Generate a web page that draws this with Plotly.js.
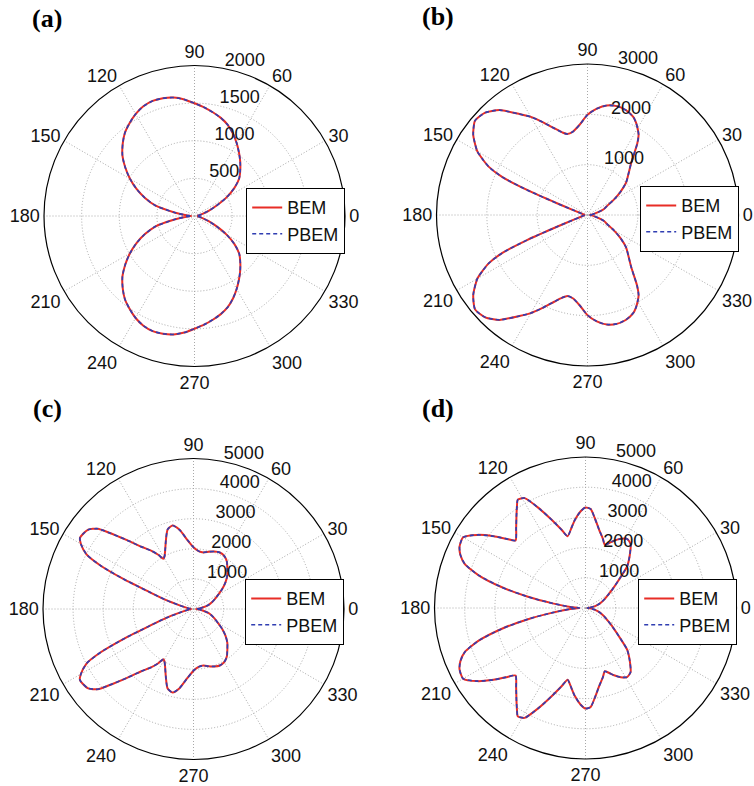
<!DOCTYPE html>
<html>
<head>
<meta charset="utf-8">
<script src="https://cdn.plot.ly/plotly-3.0.1.min.js"></script>
<style>html,body{margin:0;padding:0;background:#fff;}#chart{width:754px;height:786px;}</style>
</head>
<body>
<div id="chart"></div>
<script>
// ---------- data ----------
const seriesNames = ['BEM', 'PBEM'];
const panelLabels = ['(a)', '(b)', '(c)', '(d)'];
const angleTicks = [0, 30, 60, 90, 120, 150, 180, 210, 240, 270, 300, 330];
const angleTickText = ['0', '30', '60', '90', '120', '150', '180', '210', '240', '270', '300', '330'];
const radialTicksA = [500, 1000, 1500, 2000];
const radialTicksB = [1000, 2000, 3000];
const radialTicksC = [1000, 2000, 3000, 4000, 5000];
const radialTicksD = [1000, 2000, 3000, 4000, 5000];

// (a)
const thetaA = [0,5,10,15,20,25,30,35,40,45,50,55,60,65,70,75,80,85,90,95,100,105,110,115,120,125,130,135,140,145,150,155,160,165,170,175,180,
  185,190,195,200,205,210,215,220,225,230,235,240,245,250,255,260,265,270,275,280,285,290,295,300,305,310,315,320,325,330,335,340,345,350,355,360];
const bemA = [40,45,65,110,200,320,488,645,775,860,945,1030,1120,1210,1290,1350,1400,1450,1498,1555,1598,1620,1627,1608,1565,1505,1440,1350,1250,1123,990,850,700,540,270,110,40,
  110,270,540,700,850,990,1123,1250,1350,1440,1505,1565,1608,1627,1620,1598,1555,1498,1450,1400,1350,1290,1210,1120,1030,945,860,775,645,488,320,200,110,65,45,40];
const pbemA = bemA;

// (b)
const thetaB = [0,5,10,15,20,25,30,35,40,45,50,55,57.5,60,62.5,65,70,75,80,85,90,95,100,104,107,111,116,120,124,130,135,140,145,150,152,154,156,157.5,159,161,164,170,175,180,
  185,190,196,199,201,202.5,204,206,208,210,215,220,225,230,236,240,244,249,253,256,260,265,270,275,280,285,290,295,297.5,300,302.5,305,310,315,320,325,330,335,340,345,350,355,360];
const bemB = [50,80,130,220,350,430,600,800,1000,1150,1350,1720,1890,1990,2080,2150,2220,2240,2210,2120,1990,1800,1680,1658,1717,1846,2060,2250,2420,2720,2875,2917,2771,2527,2360,2180,1850,1300,650,300,160,90,70,60,
  70,90,160,300,650,1300,1850,2180,2360,2527,2771,2917,2875,2720,2420,2250,2060,1846,1717,1658,1680,1800,1990,2120,2210,2240,2220,2150,2080,1990,1890,1720,1350,1150,1000,800,600,430,350,220,130,80,50];
const pbemB = bemB;

// (c)
const thetaC = [0,5,10,15,20,25,30,35,40,45,50,55,60,65,70,75,80,85,90,95,100,104,108,112,116,119,121,123,126,130,134,138,140,143,146,148,150,153,155,157,159,162,165,170,175,180,
  185,190,195,198,201,203,205,207,210,212,214,217,220,222,226,230,234,237,239,241,244,248,252,256,260,265,270,275,280,285,290,295,300,305,310,315,320,325,330,335,340,345,350,355,360];
const bemC = [80,200,330,510,650,790,950,1170,1390,1590,1750,1930,2040,2070,2030,1970,1910,1930,2050,2300,2670,2860,2780,2450,2150,1990,1945,2150,2400,2700,3180,3800,4150,4380,4440,4450,4320,3990,3400,2450,1550,950,500,220,120,80,
  120,220,500,950,1550,2450,3400,3990,4320,4450,4440,4380,4150,3800,3180,2700,2400,2150,1945,1990,2150,2450,2780,2860,2670,2300,2050,1930,1910,1970,2030,2070,2040,1930,1750,1590,1390,1170,950,790,650,510,330,200,80];
const pbemC = bemC;

// (d)
const thetaD = [0,5,10,15,20,25,30,35,40,45,50,55,59,63,67,70,73,76,80,84,87,90,93,97,100,104,107,111,115,119,122,124,127,131,136,139,142,146,150,154,157,160,163,166,169,172,176,180,
  184,188,191,194,197,200,203,206,210,214,218,221,224,229,233,236,238,241,245,249,253,256,260,263,267,270,273,276,280,284,287,290,293,297,301,305,310,315,320,325,330,335,340,345,350,355,360];
const bemD = [60,150,300,430,560,700,860,1100,1430,1950,2280,2600,2670,2570,2420,2290,2190,2370,2620,2980,3280,3330,3200,2930,2690,2450,2710,3130,3640,4160,4230,4060,3800,3500,3220,3500,3860,4330,4680,4640,4500,4250,3700,2870,1940,1100,500,200,
  500,1100,1940,2870,3700,4250,4500,4640,4680,4330,3860,3500,3220,3500,3800,4060,4230,4160,3640,3130,2710,2450,2690,2930,3200,3330,3280,2980,2620,2370,2190,2290,2420,2570,2670,2600,2280,1950,1430,1100,860,700,560,430,300,150,60];
const pbemD = bemD;

// ---------- layout ----------
const W = 754, H = 786;
const FONT = 'Liberation Sans, Arial, Helvetica, sans-serif';
const TXT = '#111111';
const GRID = '#a8a8a8';
const RED = 'rgb(232,45,38)';
const BLUE = 'rgb(48,62,178)';

function dom(cx, cy, R) {
  return { x: [(cx - R) / W, (cx + R) / W], y: [1 - (cy + R) / H, 1 - (cy - R) / H] };
}

const panels = [
  { theta: thetaA, bem: bemA, pbem: pbemA, ticks: radialTicksA, max: 2000, cx: 194.5, cy: 216, R: 150.5, leg: [246, 188], lab: [47, 18] },
  { theta: thetaB, bem: bemB, pbem: pbemB, ticks: radialTicksB, max: 3000, cx: 587.5, cy: 215, R: 151, leg: [640, 186], lab: [437.5, 17] },
  { theta: thetaC, bem: bemC, pbem: pbemC, ticks: radialTicksC, max: 5000, cx: 193.5, cy: 609, R: 150.5, leg: [245, 579], lab: [47, 408] },
  { theta: thetaD, bem: bemD, pbem: pbemD, ticks: radialTicksD, max: 5000, cx: 585.5, cy: 608, R: 151, leg: [638, 579], lab: [437.5, 408] }
];

const data = [];
const layout = {
  width: W, height: H,
  margin: { l: 0, r: 0, t: 0, b: 0 },
  paper_bgcolor: '#ffffff',
  showlegend: true,
  font: { family: FONT, size: 18, color: TXT },
  annotations: []
};

panels.forEach((p, i) => {
  const sub = i === 0 ? 'polar' : 'polar' + (i + 1);
  const leg = i === 0 ? 'legend' : 'legend' + (i + 1);
  data.push({
    type: 'scatterpolar', mode: 'lines', subplot: sub, legend: leg,
    name: seriesNames[0], theta: p.theta, r: p.bem,
    line: { color: RED, width: 2, shape: 'spline', smoothing: 0.6 }
  });
  data.push({
    type: 'scatterpolar', mode: 'lines', subplot: sub, legend: leg,
    name: seriesNames[1], theta: p.theta, r: p.pbem,
    line: { color: BLUE, width: 1.6, dash: '4px,3px', shape: 'spline', smoothing: 0.6 }
  });
  layout[sub] = {
    domain: dom(p.cx, p.cy, p.R),
    bgcolor: '#ffffff',
    angularaxis: {
      rotation: 0, direction: 'counterclockwise',
      tickmode: 'array', tickvals: angleTicks, ticktext: angleTickText,
      showline: true, linecolor: '#000000', linewidth: 1.2,
      showgrid: true, gridcolor: GRID, griddash: '1px,2px', gridwidth: 1,
      ticks: 'outside', ticklen: 0.1, tickcolor: 'rgba(0,0,0,0)',
      tickfont: { family: FONT, size: 18, color: TXT }
    },
    radialaxis: {
      range: [0, p.max], tickmode: 'array', tickvals: p.ticks,
      ticktext: p.ticks.map(v => String(v) + '<br>\u00a0'),
      angle: 82, side: 'clockwise', tickangle: 82,
      showline: false, showgrid: true, gridcolor: GRID, griddash: '1px,2px', gridwidth: 1,
      ticks: '', tickfont: { family: FONT, size: 18, color: TXT }
    }
  };
  layout[leg] = {
    x: p.leg[0] / W, y: 1 - p.leg[1] / H, xanchor: 'left', yanchor: 'top',
    bgcolor: '#ffffff', bordercolor: '#000000', borderwidth: 1.2,
    font: { family: FONT, size: 18, color: TXT },
    itemwidth: 30, tracegroupgap: 0
  };
  layout.annotations.push({
    xref: 'paper', yref: 'paper', x: p.lab[0] / W, y: 1 - p.lab[1] / H,
    xanchor: 'center', yanchor: 'middle', showarrow: false,
    text: panelLabels[i],
    font: { family: 'Liberation Serif, Times New Roman, serif', size: 26, weight: 'bold', color: '#000' }
  });
});

Plotly.newPlot('chart', data, layout, { staticPlot: true, displayModeBar: false });
</script>
</body>
</html>
